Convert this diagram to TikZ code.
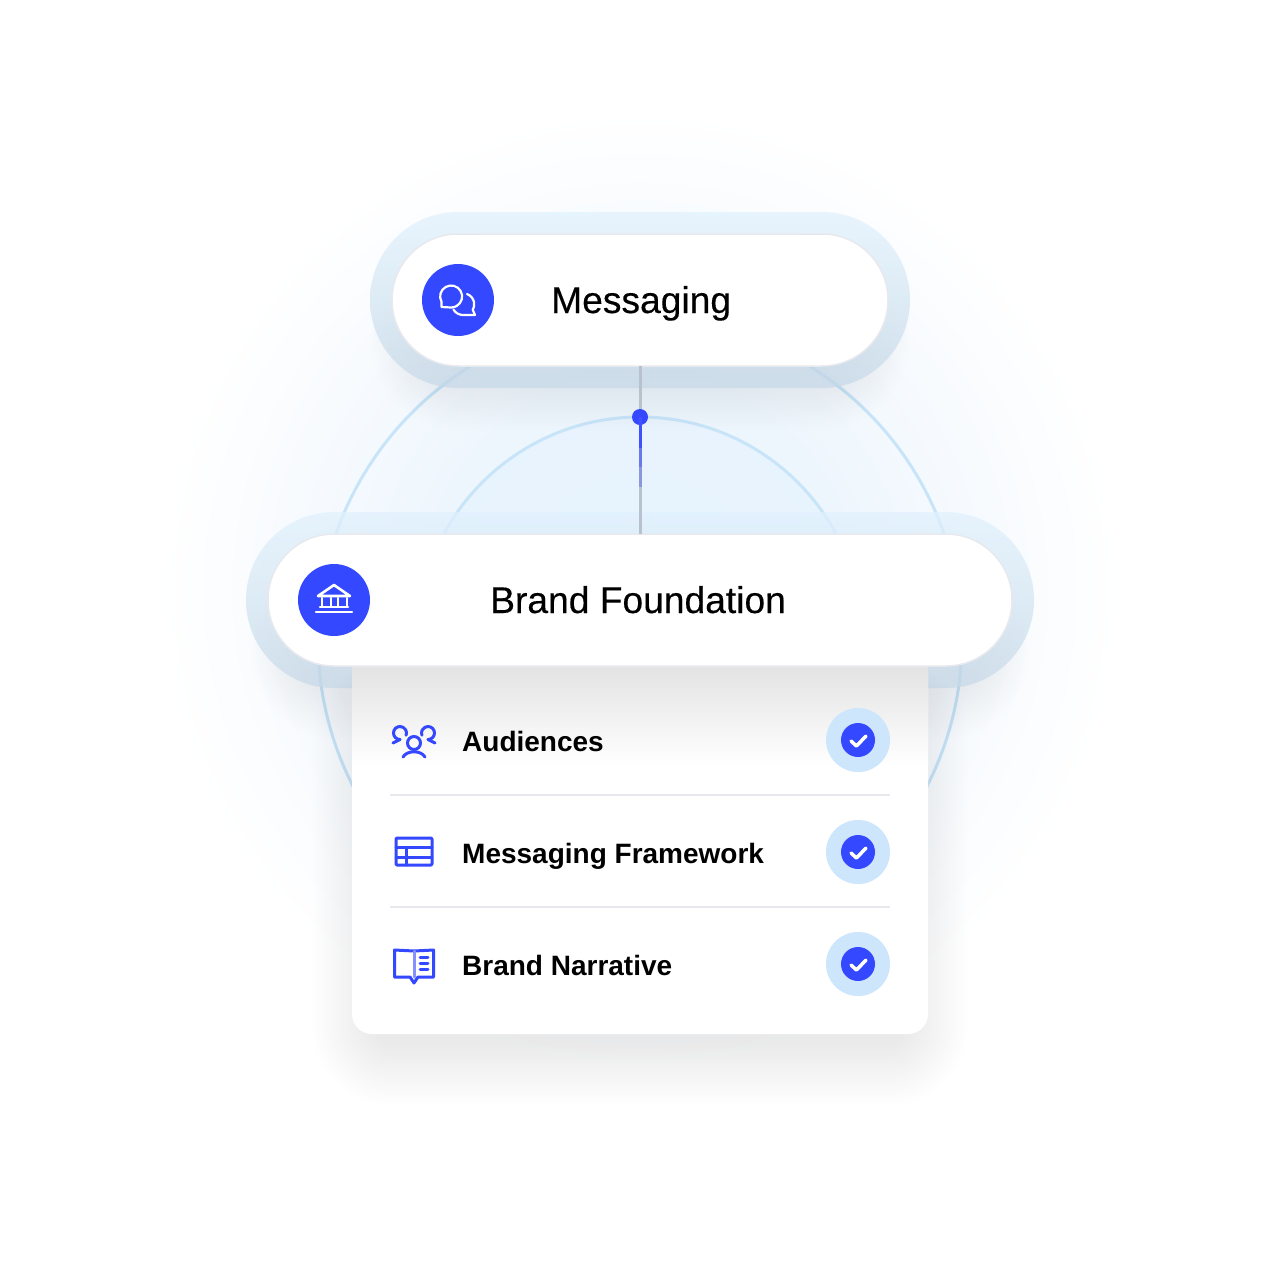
\documentclass[tikz,border=0pt]{standalone}
\usepackage{fontspec}
\setmainfont{Liberation Sans}
\newfontfamily\pillfont[FakeBold=0.3]{Liberation Sans}
\usepackage{tikz}

\definecolor{brandblue}{HTML}{3448FF}
\definecolor{ringblue}{HTML}{C8E4F9}
\definecolor{tickbg}{HTML}{CDE6FB}
\definecolor{rulegray}{HTML}{E8E9EE}
\definecolor{stemgray}{HTML}{B9C2CC}
\definecolor{glowA}{HTML}{E6F3FD}
\definecolor{glowB}{HTML}{EEF6FD}
\definecolor{glowC}{HTML}{F8FBFE}
\definecolor{discblue}{HTML}{E6F3FD}
\definecolor{haloT}{HTML}{E0F1FD}
\definecolor{haloM}{HTML}{DEF0FC}
\definecolor{haloB}{HTML}{C6D9E8}

\pgfdeclareradialshading{glowbg}{\pgfpoint{0bp}{0bp}}{color(0bp)=(glowA);color(11bp)=(glowB);color(19bp)=(glowC);color(25bp)=(white);color(50bp)=(white)}

\tikzset{
	pillbox/.style={draw=rulegray,line width=1.5pt,fill=white,minimum height=132pt,rounded corners=66pt,inner sep=0pt,outer sep=0pt},
	halobox/.style={minimum height=176pt,rounded corners=88pt,inner sep=0pt,outer sep=0pt,fill opacity=.72,
		top color=haloT,middle color=haloM,bottom color=haloB},
	badge/.style={circle,fill=brandblue,minimum size=72pt,inner sep=0pt,outer sep=0pt},
	ring/.style={ringblue,line width=3pt},
	stem/.style={stemgray,line width=3pt},
	lineicon/.style={brandblue,line width=3pt,line cap=round,line join=round},
	whiteicon/.style={white,line width=2.2pt,line cap=round,line join=round},
	pilltext/.style={inner sep=0pt,anchor=base west,font=\pillfont\fontsize{37.2}{40}\selectfont},
	rowtext/.style={inner sep=0pt,anchor=base west,font=\fontsize{28}{30}\selectfont\bfseries},
}

\newcommand{\softshadow}[6]{%
	\foreach \s in {0,3,...,60}
	\fill[black!70!blue,fill opacity=#6,rounded corners=#5+\s*1pt] (#1-\s,#2-\s) rectangle (#3+\s,#4+\s);
}

\begin{document}
\begin{tikzpicture}[x=1pt,y=-1pt]
		\useasboundingbox (0,0) rectangle (1280,1280);
		\fill[white] (0,0) rectangle (1280,1280);
		\shade[shading=glowbg] (640,590) circle (480);
		\coordinate (CC) at (640,640);
		\fill[discblue,fill opacity=.6] (CC) circle (223);
		\draw[ring] (CC) circle (322);
		\draw[ring] (CC) circle (223);

		\softshadow{430}{320}{850}{370}{30pt}{.0032}
		\node[halobox,minimum width=540pt] (MSGH) at (640,300) {};
		\node[pillbox,minimum width=496pt] (MSG) at (640,300) {};

		\softshadow{310}{620}{970}{680}{30pt}{.0032}
		\node[halobox,minimum width=788pt] (BFH) at (640,600) {};

		\softshadow{372}{720}{908}{1045}{20pt}{.0028}
		\node[draw=none,fill=white,minimum width=576pt,minimum height=380pt,rounded corners=20pt,inner sep=0pt,outer sep=0pt] (CARD) at (640,844) {};
		\shade[top color=black!11,bottom color=white] (352,666) rectangle (928,765);

		\node[pillbox,minimum width=744pt] (BF) at (640,600) {};

		\draw[stem] (MSG.south) -- (BF.north);
		\coordinate (ST1) at (640,448);
		\coordinate (ST2) at (640,467);
		\coordinate (ST3) at (640,487);
		\node[circle,fill=brandblue,minimum size=16pt,inner sep=0pt] (DOT) at (640,417) {};
		\draw[line width=3pt,color=brandblue!95!white] (DOT.center) -- (ST1);
		\draw[line width=3pt,color=brandblue!60!stemgray] (ST1) -- (ST2);
		\draw[line width=3pt,color=brandblue!35!stemgray] (ST2) -- (ST3);

		\node[badge] (MSGB) at (458,300) {};
		\node[badge] (BFB) at (334,600) {};
		\node[pilltext] (MSGT) at (551,313) {Messaging};
		\node[pilltext] (BFT) at (490,613) {Brand Foundation};

		\draw[whiteicon] (441.6,302) arc (150:450:11) -- (441.5,307) -- cycle;
		\draw[whiteicon] (467,294) arc (-70:30:11) -- (475,315) -- (463,315) arc (90:150:11);

		\draw[whiteicon,line width=2.6pt] (334,585) -- (318,596) -- (350,596) -- cycle;
		\foreach \x in {322,331,338,347}
		\draw[whiteicon,line width=2.6pt] (\x,598) -- (\x,606);
		\draw[whiteicon,line width=2.6pt] (320,607) -- (348,607);
		\draw[whiteicon,line width=2.6pt] (316,612) -- (352,612);

		\foreach \y/\t/\n in {740/Audiences/1,852/Messaging Framework/2,964/Brand Narrative/3} {
			\node[rowtext] (ROW\n) at (462,\y+11) {\t};
			\node[circle,fill=tickbg,minimum size=64pt,inner sep=0pt] (TICKBG\n) at (858,\y) {};
			\node[circle,fill=brandblue,minimum size=34pt,inner sep=0pt] (TICK\n) at (858,\y) {};
			\draw[white,line width=3.5pt,line cap=round,line join=round] (851,\y+1) -- (856.5,\y+6) -- (866,\y-4);
		}
		\coordinate (RL1) at (390,795);
		\coordinate (RR1) at (890,795);
		\coordinate (RL2) at (390,907);
		\coordinate (RR2) at (890,907);
		\draw[rulegray,line width=2pt] (RL1) -- (RR1);
		\draw[rulegray,line width=2pt] (RL2) -- (RR2);

		\draw[lineicon] (414,743) circle (6.5);
		\draw[lineicon] (403,757) .. controls (407,750) and (421,750) .. (425,757);
		\draw[lineicon] (400,739.5) arc (90:380:6.5);
		\draw[lineicon] (393,743) -- (400,739.5);
		\draw[lineicon] (428,739.5) arc (90:-200:6.5);
		\draw[lineicon] (435,743) -- (428,739.5);

		\draw[lineicon,rounded corners=1pt] (396,838) rectangle (432,865);
		\draw[lineicon] (396,847.5) -- (432,847.5);
		\draw[lineicon] (396,857) -- (432,857);
		\draw[lineicon] (406,847.5) -- (406,865);

		\draw[lineicon] (414,951) -- (394.5,950) -- (394.5,977) -- (410,977) -- (414,983) -- (418,977) -- (433.5,977) -- (433.5,950) -- (414,951);
		\draw[lineicon,brandblue!60!white] (414,951) -- (414,977);
		\foreach \y in {957,963,969}
		\draw[lineicon] (420,\y) -- (428,\y);

	    \end{tikzpicture}
\end{document}
